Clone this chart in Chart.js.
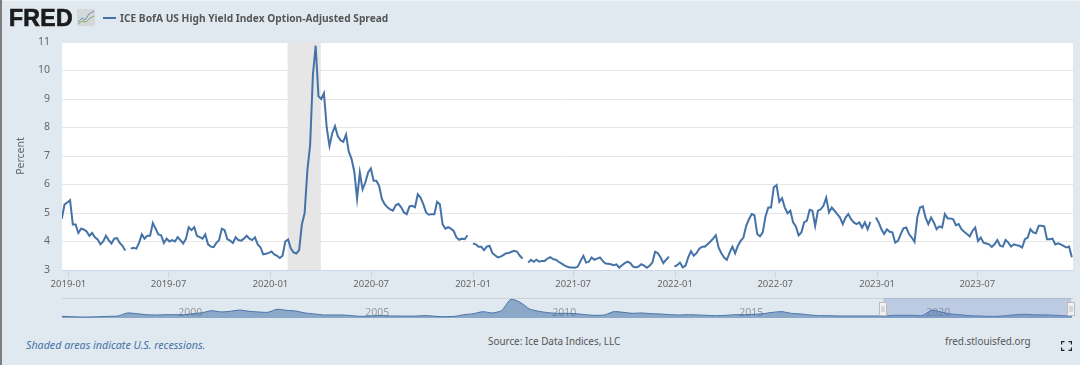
<!DOCTYPE html>
<html>
<head>
<meta charset="utf-8">
<title>ICE BofA US High Yield Index Option-Adjusted Spread</title>
<script src="https://cdn.jsdelivr.net/npm/chart.js@4/dist/chart.umd.min.js"></script>
<style>
html, body { margin: 0; padding: 0; }
body { width: 1080px; height: 365px; background: #e1e9f0; position: relative; overflow: hidden; font-family: "Noto Sans", sans-serif; }
canvas { position: absolute; left: 0; }
#edge { position: absolute; left: 0; top: 0; width: 2px; height: 365px; background: #7d7d7d; }
#topline { position: absolute; left: 0; top: 0; width: 1080px; height: 1px; background: #f0f3f6; }
#logo { position: absolute; left: 9px; top: 3px; font: bold 23px/30px "Liberation Sans", sans-serif; color: #1b1b1b; letter-spacing: 0.3px; -webkit-text-stroke: 0.7px #1b1b1b; }
#logoicon { position: absolute; left: 77px; top: 9px; }
#legendline { position: absolute; left: 103px; top: 17px; width: 13px; height: 2px; background: #4572a7; }
#legendtext { position: absolute; left: 120px; top: 10px; font: bold 10.2px/16px "Noto Sans", sans-serif; color: #555; white-space: nowrap; }
.foot { position: absolute; font-size: 9.9px; line-height: 14px; color: #555; white-space: nowrap; }
#note { left: 26px; top: 338px; font-size: 10.7px; font-style: italic; color: #4572a7; }
#source { left: 488px; top: 334px; }
#site { left: 945px; top: 334px; }
#full { position: absolute; left: 1061px; top: 341px; }
</style>
</head>
<body>
<canvas id="mainChart" width="1080" height="295" style="top:0"></canvas>
<canvas id="navChart" width="1080" height="40" style="top:290px"></canvas>
<div id="topline"></div>
<div id="edge"></div>
<div id="logo">FRED</div>
<svg id="logoicon" width="18" height="17" viewBox="0 0 18 17">
  <rect width="18" height="17" fill="#d5d8da"/>
  <polyline points="1,13 5,9 8,11 12,5 17,2" fill="none" stroke="#6d8fb8" stroke-width="1"/>
  <polyline points="1,15 5,12 9,13 13,9 17,7" fill="none" stroke="#8aa860" stroke-width="1"/>
</svg>
<div id="legendline"></div>
<div id="legendtext">ICE BofA US High Yield Index Option-Adjusted Spread</div>
<div class="foot" id="note">Shaded areas indicate U.S. recessions.</div>
<div class="foot" id="source">Source: Ice Data Indices, LLC</div>
<div class="foot" id="site">fred.stlouisfed.org</div>
<svg id="full" width="11" height="10" viewBox="0 0 11 10">
  <path d="M0.5 3.5V0.5H3.5M7.5 0.5H10.5V3.5M10.5 6.5V9.5H7.5M3.5 9.5H0.5V6.5" fill="none" stroke="#222" stroke-width="1.4"/>
</svg>

<script>
// readings start at 2018-12-20 and are taken about every 5 days, null = gap in the line
const startDate = '2018-12-20'
const stepDays = 4.986

const spread = [
  4.80, 5.30, 5.37, 5.45, 4.60, 4.60, 4.30, 4.45, 4.42, 4.35, 4.20, 4.30, 4.15, 4.07, 3.90, 4.00,
  4.20, 4.05, 3.93, 4.10, 4.12, 3.95, 3.85, 3.68, null, 3.75, 3.78, 3.75, 3.95, 4.25, 4.10, 4.20,
  4.20, 4.65, 4.45, 4.25, 4.22, 3.95, 4.10, 4.00, 4.05, 4.00, 4.15, 4.05, 3.93, 4.10, 4.50, 4.40,
  4.50, 4.20, 4.15, 4.10, 4.25, 3.90, 3.82, 3.80, 3.95, 4.05, 4.45, 4.40, 4.08, 4.03, 3.95, 4.15,
  4.05, 4.03, 4.10, 4.20, 4.10, 4.05, 4.15, 3.90, 3.80, 3.55, 3.57, 3.60, 3.65, 3.55, 3.50, 3.42,
  3.50, 4.00, 4.07, 3.75, 3.62, 3.58, 3.70, 4.60, 5.00, 6.50, 7.40, 9.85, 10.87, 9.10, 9.00, 9.20,
  8.00, 7.35, 7.80, 8.05, 7.70, 7.55, 7.50, 7.75, 7.15, 6.90, 6.45, 5.50, 6.42, 5.83, 6.07, 6.42,
  6.56, 6.13, 6.13, 5.95, 5.49, 5.31, 5.20, 5.13, 5.08, 5.27, 5.32, 5.20, 5.02, 4.96, 5.23, 5.25,
  5.20, 5.66, 5.54, 5.31, 5.02, 4.94, 4.96, 4.96, 5.39, 5.31, 4.60, 4.45, 4.50, 4.45, 4.37, 4.14,
  4.06, 4.10, 4.08, 4.22, null, 3.93, 3.90, 3.82, 3.82, 3.70, 3.82, 3.85, 3.60, 3.52, 3.44, 3.47,
  3.52, 3.59, 3.60, 3.64, 3.67, 3.64, 3.50, 3.40, null, 3.26, 3.36, 3.29, 3.36, 3.29, 3.32, 3.32,
  3.40, 3.45, 3.38, 3.36, 3.29, 3.23, 3.17, 3.12, 3.09, 3.09, 3.08, 3.12, 3.32, 3.50, 3.26, 3.29,
  3.44, 3.36, 3.40, 3.44, 3.32, 3.23, 3.22, 3.20, 3.17, 3.20, 3.08, 3.17, 3.24, 3.29, 3.24, 3.12,
  3.09, 3.12, 3.20, 3.15, 3.08, 3.15, 3.26, 3.64, 3.59, 3.44, 3.24, 3.36, 3.47, null, 3.12, 3.17,
  3.26, 3.09, 3.15, 3.44, 3.66, 3.50, 3.59, 3.75, 3.82, 3.82, 3.90, 3.99, 4.10, 4.22, 3.79, 3.59,
  3.44, 3.36, 3.61, 3.82, 3.59, 3.85, 4.02, 4.14, 4.55, 4.78, 4.96, 4.92, 4.26, 4.18, 4.32, 4.88,
  5.19, 5.19, 5.90, 5.98, 5.39, 5.52, 5.19, 4.99, 5.08, 4.67, 4.53, 4.22, 4.32, 4.67, 4.73, 5.11,
  5.08, 4.55, 5.08, 5.13, 5.25, 5.54, 5.02, 5.19, 5.08, 4.96, 4.84, 4.61, 4.84, 4.96, 4.78, 4.67,
  4.61, 4.67, 4.49, 4.67, 4.43, 4.69, null, 4.84, 4.67, 4.43, 4.26, 4.43, 4.34, 4.32, 3.96, 4.02,
  4.26, 4.46, 4.49, 4.26, 4.14, 3.99, 4.84, 5.19, 5.23, 4.84, 4.61, 4.84, 4.67, 4.43, 4.53, 4.49,
  4.96, 4.81, 4.81, 4.78, 4.57, 4.61, 4.43, 4.34, 4.26, 4.18, 4.37, 4.49, 4.02, 4.14, 3.96, 3.93,
  3.90, 3.81, 3.90, 4.05, 3.85, 3.82, 4.05, 3.96, 3.82, 3.90, 3.87, 3.85, 3.79, 4.08, 4.14, 4.43,
  4.32, 4.29, 4.55, 4.55, 4.53, 4.08, 4.08, 4.10, 3.90, 3.94, 3.90, 3.85, 3.79, 3.82, 3.45
]

const tickMonths = ['2019-01', '2019-07', '2020-01', '2020-07', '2021-01', '2021-07', '2022-01', '2022-07', '2023-01', '2023-07']
const yTicks = [3, 4, 5, 6, 7, 8, 9, 10, 11]
const recession = ['2020-02-01', '2020-04-01']

// navigator: whole history since end of 1996, one reading a quarter
const navStartYear = 1997
const navStepYears = 0.25
const navSpread = [
  3.2, 2.85, 2.5, 2.5, 2.85, 3.2, 3.6, 6.9, 6.1, 5.0, 4.7, 5.0, 5.0, 5.0, 6.1, 7.2,
  9.4, 8.0, 8.7, 10.1, 8.7, 8.0, 7.6, 10.9, 9.8, 9.0, 6.9, 5.8, 4.7, 4.7, 4.7, 3.95,
  3.2, 3.6, 4.0, 3.6, 3.6, 3.4, 3.6, 4.0, 3.2, 2.85, 3.2, 5.0, 6.1, 8.3, 6.9, 9.4,
  21.8, 18.5, 11.2, 8.7, 7.2, 6.5, 6.5, 6.1, 5.0, 4.3, 4.7, 8.3, 7.6, 6.5, 6.9, 6.1,
  5.8, 5.0, 4.7, 5.0, 4.7, 4.3, 3.95, 4.3, 5.0, 5.0, 5.4, 6.1, 7.6, 8.3, 6.5, 5.8,
  4.7, 3.95, 3.95, 3.6, 3.6, 3.6, 3.6, 3.6, 3.7, 4.3, 4.3, 4.3, 4.0, 9.8, 8.0, 5.8,
  5.0, 3.95, 3.6, 3.2, 3.2, 4.0, 5.0, 5.4, 4.9, 4.8, 4.5, 3.9, 3.5
]
const navTickYears = [2000, 2005, 2010, 2015, 2020]
const navWindow = [2018.96, 2023.98]

const textColor = '#666'
const lineColor = '#4572a7'
const gridColor = '#e6e6e6'
const axisColor = '#ccd6eb'

const DAY = 86400000
const dayOf = s => (Date.parse(s) - Date.parse('2019-01-01')) / DAY
const firstDay = dayOf(startDate)

const spreadPoints = spread.map((v, i) => ({ x: firstDay + i * stepDays, y: v }))
const monthDays = tickMonths.map(m => dayOf(m + '-01'))

// white plot background and the recession band, band sits over the gridlines
const plotBackground = {
  id: 'plotBackground',
  beforeDraw(chart) {
    const a = chart.chartArea
    chart.ctx.fillStyle = '#fff'
    chart.ctx.fillRect(a.left, a.top, a.width, a.height)
  },
  beforeDatasetsDraw(chart) {
    const a = chart.chartArea
    const x0 = chart.scales.x.getPixelForValue(dayOf(recession[0]))
    const x1 = chart.scales.x.getPixelForValue(dayOf(recession[1]))
    chart.ctx.fillStyle = gridColor
    chart.ctx.fillRect(x0, a.top, x1 - x0, a.height)
  }
}

new Chart(document.getElementById('mainChart'), {
  type: 'line',
  data: {
    datasets: [{
      data: spreadPoints,
      borderColor: lineColor,
      borderWidth: 2,
      pointRadius: 0,
      tension: 0,
      spanGaps: false
    }]
  },
  options: {
    responsive: false,
    animation: false,
    layout: { padding: { top: 42, right: 7, left: 0, bottom: 0 } },
    plugins: { legend: { display: false }, tooltip: { enabled: false } },
    scales: {
      x: {
        type: 'linear',
        min: -11.6,
        max: 1815,
        afterFit: s => { s.height = 25 },
        afterBuildTicks: s => { s.ticks = monthDays.map(d => ({ value: d })) },
        grid: { drawOnChartArea: false, drawTicks: true, tickLength: 8, color: axisColor },
        border: { color: axisColor },
        ticks: {
          autoSkip: false,
          maxRotation: 0,
          padding: 1,
          color: textColor,
          font: { family: 'Noto Sans', size: 9.5 },
          callback: v => tickMonths[monthDays.indexOf(v)]
        }
      },
      y: {
        min: 3,
        max: 11,
        afterFit: s => { s.width = 62 },
        afterBuildTicks: s => { s.ticks = yTicks.map(v => ({ value: v })) },
        grid: { color: gridColor, drawTicks: false },
        border: { display: false },
        title: {
          display: true,
          text: 'Percent',
          color: textColor,
          font: { family: 'Noto Sans', size: 10.5 },
          padding: { top: 15, bottom: 0 }
        },
        ticks: {
          padding: 12,
          labelOffset: 0,
          color: textColor,
          font: { family: 'Noto Sans', size: 10.5 }
        }
      }
    }
  },
  plugins: [plotBackground]
})

// selected window and its two handles on top of the navigator
const navWindowMask = {
  id: 'navWindowMask',
  afterDatasetsDraw(chart) {
    const a = chart.chartArea
    const ctx = chart.ctx
    const x0 = chart.scales.x.getPixelForValue(navWindow[0])
    const x1 = chart.scales.x.getPixelForValue(navWindow[1])
    ctx.fillStyle = 'rgba(102,133,194,0.3)'
    ctx.fillRect(x0, a.top, x1 - x0, a.height)
    ;[x0, x1].forEach(x => {
      ctx.fillStyle = '#f2f2f2'
      ctx.strokeStyle = '#bbb'
      ctx.fillRect(Math.round(x) - 3.5, a.top + 4.5, 7, 13)
      ctx.strokeRect(Math.round(x) - 3.5, a.top + 4.5, 7, 13)
      ctx.beginPath()
      ctx.moveTo(Math.round(x) - 1, a.top + 8)
      ctx.lineTo(Math.round(x) - 1, a.top + 14)
      ctx.moveTo(Math.round(x) + 1, a.top + 8)
      ctx.lineTo(Math.round(x) + 1, a.top + 14)
      ctx.stroke()
    })
  }
}

new Chart(document.getElementById('navChart'), {
  type: 'line',
  data: {
    datasets: [{
      data: navSpread.map((v, i) => ({ x: navStartYear + i * navStepYears, y: v })),
      borderColor: lineColor,
      borderWidth: 1,
      backgroundColor: 'rgba(69,114,167,0.55)',
      fill: 'origin',
      pointRadius: 0,
      tension: 0.2
    }]
  },
  options: {
    responsive: false,
    animation: false,
    layout: { padding: { top: 8, right: 7, left: 62, bottom: 0 } },
    plugins: { legend: { display: false }, tooltip: { enabled: false } },
    scales: {
      x: {
        type: 'linear',
        min: navStartYear,
        max: 2024.03,
        afterFit: s => { s.height = 12 },
        afterBuildTicks: s => { s.ticks = navTickYears.map(v => ({ value: v })) },
        grid: { display: false },
        border: { display: false },
        ticks: {
          z: 0,
          mirror: true,
          align: 'start',
          padding: -1.5,
          labelOffset: 4,
          autoSkip: false,
          maxRotation: 0,
          color: '#999',
          font: { family: 'Noto Sans', size: 10.5 },
          callback: v => String(v)
        }
      },
      y: {
        display: false,
        min: 1.4,
        max: 23.2
      }
    }
  },
  plugins: [navWindowMask, {
    id: 'navTopLine',
    beforeDatasetsDraw(chart) {
      const a = chart.chartArea
      chart.ctx.fillStyle = '#d0d3d6'
      chart.ctx.fillRect(a.left, a.top, a.width, 1)
    }
  }]
})
</script>
</body>
</html>
